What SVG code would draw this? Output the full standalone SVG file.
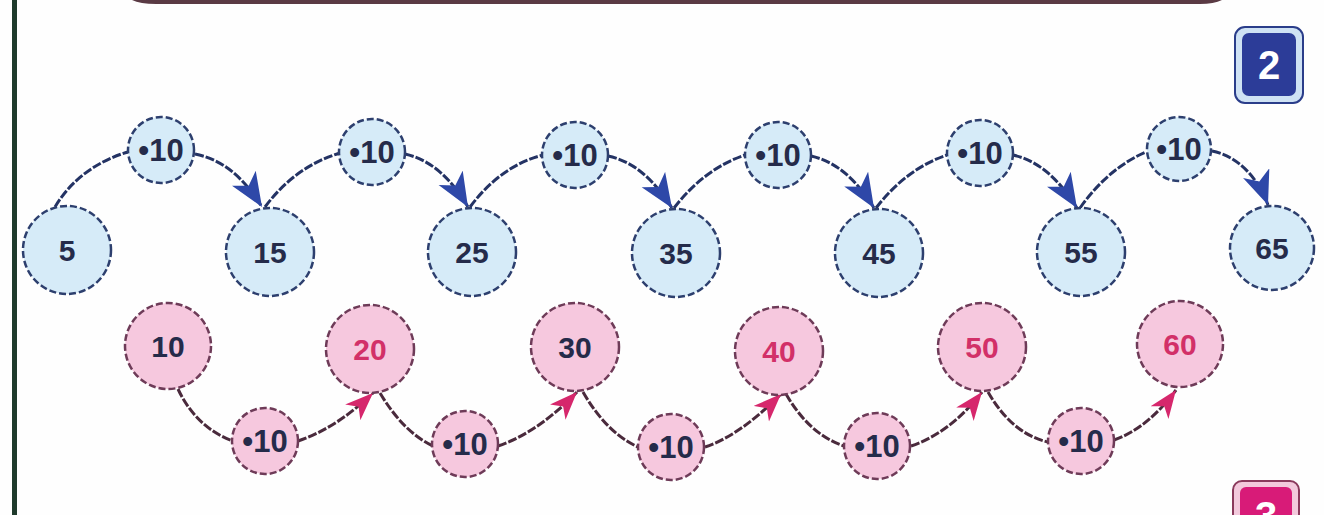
<svg xmlns="http://www.w3.org/2000/svg" width="1324" height="515" viewBox="0 0 1324 515">
<style>
.bb{fill:#d6ebf8;stroke:#2d3f6e;stroke-width:2.5;stroke-dasharray:7 3}
.pb{fill:#f6c8de;stroke:#6e3b58;stroke-width:2.5;stroke-dasharray:7 3}
.t{font-family:"Liberation Sans",Arial,sans-serif;font-weight:bold;font-size:30px;text-anchor:middle;fill:#252b4a}
.s{font-size:31px}
.tr{fill:#d23068}
.bl{fill:none;stroke:#243364;stroke-width:3;stroke-dasharray:9 2}
.pl{fill:none;stroke:#4a2a3c;stroke-width:3;stroke-dasharray:9 2}
</style>
<defs>
<marker id="ab" markerUnits="userSpaceOnUse" markerWidth="36" markerHeight="30" refX="34" refY="14" orient="auto">
<path d="M0,0 L34,14 L0,28 L9,14 z" fill="#2e48a8"/>
</marker>
<marker id="ap" markerUnits="userSpaceOnUse" markerWidth="30" markerHeight="26" refX="28" refY="11" orient="auto">
<path d="M0,0 L28,11 L0,22 L8,11 z" fill="#d6276c"/>
</marker>
</defs>
<rect width="1324" height="515" fill="#fefefe"/>
<rect x="12" y="0" width="5" height="515" fill="#1f3b2c"/>
<path d="M132,0 Q140,4 156,4 L1200,4 Q1214,4 1222,0 Z" fill="#5a3a44"/>

<g id="connectors">
<path class="bl" d="M55,207 C72,178 100,160 128,152"/>
<path class="bl" d="M195,154 C225,160 245,180 262,207" marker-end="url(#ab)"/>
<path class="bl" d="M265,207 C285,180 310,162 340,153"/>
<path class="bl" d="M405,154 C432,160 452,180 468,207" marker-end="url(#ab)"/>
<path class="bl" d="M470,207 C490,180 515,162 543,155"/>
<path class="bl" d="M608,156 C636,162 655,182 672,208" marker-end="url(#ab)"/>
<path class="bl" d="M674,208 C694,182 718,164 745,155"/>
<path class="bl" d="M811,156 C838,162 858,182 874,208" marker-end="url(#ab)"/>
<path class="bl" d="M876,208 C896,182 920,164 947,155"/>
<path class="bl" d="M1013,155 C1040,161 1060,181 1077,208" marker-end="url(#ab)"/>
<path class="bl" d="M1080,208 C1098,182 1122,162 1146,152"/>
<path class="bl" d="M1212,151 C1238,156 1258,178 1268,205" marker-end="url(#ab)"/>

<path class="pl" d="M178,389 C190,415 210,433 233,441"/>
<path class="pl" d="M298,441 C325,432 350,415 373,393" marker-end="url(#ap)"/>
<path class="pl" d="M380,393 C395,418 412,436 433,446"/>
<path class="pl" d="M498,446 C525,437 552,418 577,392" marker-end="url(#ap)"/>
<path class="pl" d="M583,392 C598,418 616,437 638,447"/>
<path class="pl" d="M705,447 C732,438 757,418 781,394" marker-end="url(#ap)"/>
<path class="pl" d="M786,394 C801,420 820,438 844,446"/>
<path class="pl" d="M911,446 C938,437 962,418 982,392" marker-end="url(#ap)"/>
<path class="pl" d="M988,392 C1003,418 1022,436 1048,442"/>
<path class="pl" d="M1114,440 C1138,432 1160,412 1176,390" marker-end="url(#ap)"/>
</g>

<g id="b5"><circle class="bb" cx="67" cy="250" r="44"/><text class="t" x="67" y="261">5</text></g>
<g id="b15"><circle class="bb" cx="270" cy="252" r="44"/><text class="t" x="270" y="263">15</text></g>
<g id="b25"><circle class="bb" cx="472" cy="252" r="44"/><text class="t" x="472" y="263">25</text></g>
<g id="b35"><circle class="bb" cx="676" cy="253" r="44"/><text class="t" x="676" y="264">35</text></g>
<g id="b45"><circle class="bb" cx="879" cy="253" r="44"/><text class="t" x="879" y="264" fill="#6a2845">45</text></g>
<g id="b55"><circle class="bb" cx="1081" cy="252" r="44"/><text class="t" x="1081" y="263">55</text></g>
<g id="b65"><circle class="bb" cx="1272" cy="248" r="42"/><text class="t" x="1272" y="259" fill="#9a3e62">65</text></g>

<g id="s1"><circle class="bb" cx="161" cy="150" r="33"/><text class="t s" x="161" y="161">•10</text></g>
<g id="s2"><circle class="bb" cx="372" cy="152" r="33"/><text class="t s" x="372" y="163">•10</text></g>
<g id="s3"><circle class="bb" cx="575" cy="155" r="33"/><text class="t s" x="575" y="166">•10</text></g>
<g id="s4"><circle class="bb" cx="778" cy="155" r="33"/><text class="t s" x="778" y="166">•10</text></g>
<g id="s5"><circle class="bb" cx="980" cy="153" r="33"/><text class="t s" x="980" y="164">•10</text></g>
<g id="s6"><circle class="bb" cx="1179" cy="149" r="32"/><text class="t s" x="1179" y="160">•10</text></g>

<g id="p10"><circle class="pb" cx="168" cy="346" r="43"/><text class="t" x="168" y="357">10</text></g>
<g id="p20"><circle class="pb" cx="370" cy="349" r="44"/><text class="t tr" x="370" y="360">20</text></g>
<g id="p30"><circle class="pb" cx="575" cy="347" r="44"/><text class="t" x="575" y="358">30</text></g>
<g id="p40"><circle class="pb" cx="779" cy="351" r="44"/><text class="t tr" x="779" y="362">40</text></g>
<g id="p50"><circle class="pb" cx="982" cy="347" r="44"/><text class="t tr" x="982" y="358">50</text></g>
<g id="p60"><circle class="pb" cx="1180" cy="344" r="43"/><text class="t tr" x="1180" y="355">60</text></g>

<g id="q1"><circle class="pb" cx="265" cy="441" r="33"/><text class="t s" x="265" y="452">•10</text></g>
<g id="q2"><circle class="pb" cx="465" cy="444" r="33"/><text class="t s" x="465" y="455">•10</text></g>
<g id="q3"><circle class="pb" cx="671" cy="447" r="33"/><text class="t s" x="671" y="458">•10</text></g>
<g id="q4"><circle class="pb" cx="877" cy="446" r="33"/><text class="t s" x="877" y="457">•10</text></g>
<g id="q5"><circle class="pb" cx="1081" cy="441" r="33"/><text class="t s" x="1081" y="452">•10</text></g>

<g id="badge2">
<rect x="1235" y="27" width="68" height="76" rx="10" fill="#cfe2f4" stroke="#2a3d8a" stroke-width="2"/>
<rect x="1242" y="33" width="54" height="63" rx="7" fill="#2c3c98"/>
<text x="1269" y="79" font-family="Liberation Sans,Arial,sans-serif" font-weight="bold" font-size="40" fill="#ffffff" text-anchor="middle">2</text>
</g>
<g id="badge3">
<rect x="1233" y="481" width="66" height="50" rx="9" fill="#f3c9dc" stroke="#8a3a5c" stroke-width="2"/>
<rect x="1240" y="487" width="52" height="40" rx="6" fill="#d81b78"/>
<text x="1266" y="530" font-family="Liberation Sans,Arial,sans-serif" font-weight="bold" font-size="40" fill="#ffffff" text-anchor="middle">3</text>
</g>
</svg>
